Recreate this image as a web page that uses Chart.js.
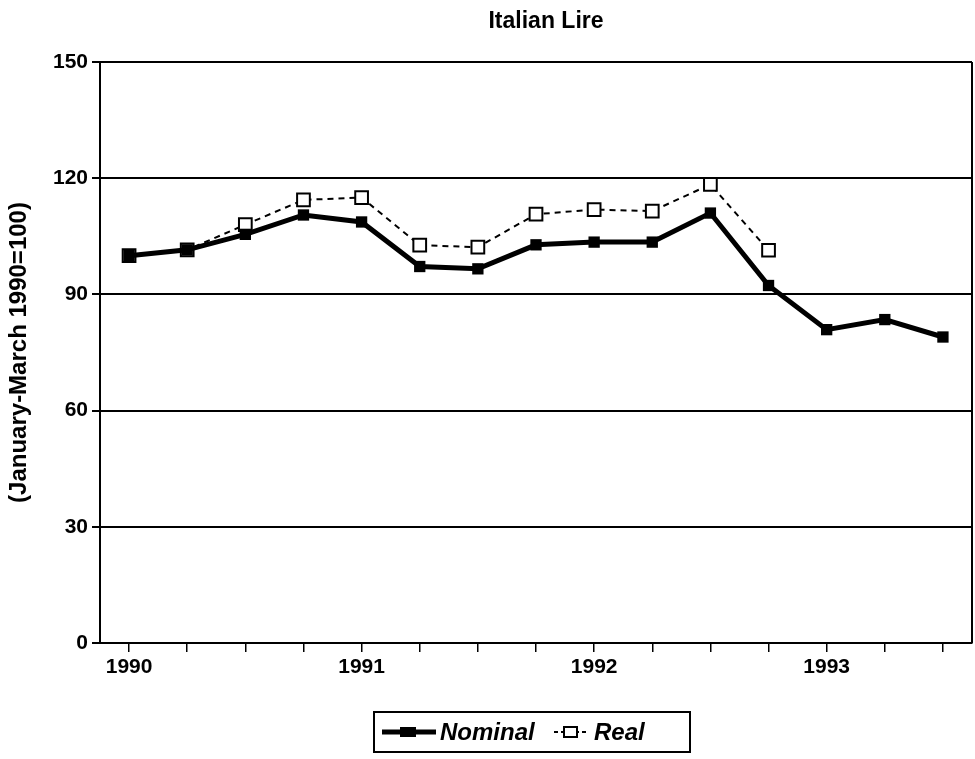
<!DOCTYPE html>
<html>
<head>
<title>Italian Lire</title>
<script src="https://cdn.jsdelivr.net/npm/chart.js@4.4.1/dist/chart.umd.min.js"></script>
<style>
  html, body { margin: 0; padding: 0; background: #fff; overflow: hidden; }
</style>
</head>
<body>
<canvas id="lire" width="983" height="759"></canvas>
<script>
// quarterly index, January-March 1990 = 100
var quarters = ['1990 Q1','1990 Q2','1990 Q3','1990 Q4',
                '1991 Q1','1991 Q2','1991 Q3','1991 Q4',
                '1992 Q1','1992 Q2','1992 Q3','1992 Q4',
                '1993 Q1','1993 Q2','1993 Q3'];
var nominal = [100, 101.5, 105.5, 110.5, 108.7, 97.2, 96.6, 102.8, 103.5, 103.5, 111, 92.3, 80.9, 83.5, 79];
var real    = [100, 101.5, 108, 114.4, 115, 102.7, 102.2, 110.7, 111.9, 111.5, 118.4, 101.4, null, null, null];
var yTicks  = [0, 30, 60, 90, 120, 150];

var FONT = '"Liberation Sans", Arial, sans-serif';

// title, right border and the boxed legend
var extras = {
    id: 'extras',
    afterDraw: function(chart) {
        var ctx = chart.ctx, a = chart.chartArea;
        ctx.save();
        // right frame line
        ctx.strokeStyle = '#000';
        ctx.lineWidth = 2;
        ctx.beginPath();
        ctx.moveTo(a.right, a.top);
        ctx.lineTo(a.right, a.bottom);
        ctx.stroke();

        // title
        ctx.fillStyle = '#000';
        ctx.font = 'bold 23px ' + FONT;
        ctx.textAlign = 'center';
        ctx.textBaseline = 'middle';
        ctx.fillText('Italian Lire', 546, 22);

        // legend box
        var lx = 374, ly = 712, lw = 316, lh = 40, cy = ly + lh / 2;
        ctx.lineWidth = 2;
        ctx.strokeRect(lx, ly, lw, lh);

        // Nominal sample
        ctx.lineWidth = 5;
        ctx.beginPath();
        ctx.moveTo(lx + 8, cy);
        ctx.lineTo(lx + 62, cy);
        ctx.stroke();
        ctx.fillRect(lx + 26, cy - 5, 16, 10);
        ctx.font = 'italic bold 24px ' + FONT;
        ctx.textAlign = 'left';
        ctx.fillText('Nominal', lx + 66, cy + 1);

        // Real sample
        var rx = lx + 180;
        ctx.lineWidth = 2;
        ctx.setLineDash([4, 3]);
        ctx.beginPath();
        ctx.moveTo(rx, cy);
        ctx.lineTo(rx + 34, cy);
        ctx.stroke();
        ctx.setLineDash([]);
        ctx.fillStyle = '#fff';
        ctx.fillRect(rx + 10, cy - 5, 13, 10);
        ctx.strokeRect(rx + 10, cy - 5, 13, 10);
        ctx.fillStyle = '#000';
        ctx.fillText('Real', rx + 40, cy + 1);
        ctx.restore();
    }
};

var ctx1 = document.getElementById('lire').getContext('2d');
var chartLire = new Chart(ctx1, {
    type: 'line',
    data: {
        labels: quarters,
        datasets: [
            {
                label: 'Nominal', data: nominal,
                borderColor: '#000', backgroundColor: '#000',
                borderWidth: 5, pointStyle: 'rect', pointRadius: 8,
                pointBorderWidth: 0, pointBackgroundColor: '#000',
                tension: 0, fill: false, order: 0
            },
            {
                label: 'Real', data: real,
                borderColor: '#000', backgroundColor: '#fff',
                borderWidth: 2, borderDash: [6, 5], pointStyle: 'rect', pointRadius: 9,
                pointBorderWidth: 2, pointBorderColor: '#000', pointBackgroundColor: '#fff',
                tension: 0, fill: false, spanGaps: false, order: 1
            }
        ]
    },
    options: {
        responsive: false,
        animation: false,
        layout: { padding: { left: 0, right: 0, top: 62, bottom: 0 } },
        plugins: { legend: { display: false }, title: { display: false }, tooltip: { enabled: false } },
        scales: {
            x: {
                offset: true,
                afterFit: function(s) { s.height = 116; },
                grid: { offset: false, drawOnChartArea: false, drawTicks: true, tickLength: 9, color: '#000', lineWidth: 1.5 },
                border: { display: true, color: '#000', width: 2 },
                ticks: {
                    autoSkip: false, maxRotation: 0, padding: 3, color: '#000',
                    font: { family: FONT, size: 21, weight: 'bold' },
                    callback: function(v, i) {
                        var q = quarters[i];
                        return q.slice(5) === 'Q1' ? q.slice(0, 4) : '';
                    }
                }
            },
            y: {
                min: 0, max: 150,
                afterFit: function(s) { s.width = 100; },
                afterBuildTicks: function(s) { s.ticks = yTicks.map(function(v) { return { value: v }; }); },
                grid: { color: '#000', lineWidth: 2, tickLength: 8 },
                border: { display: true, color: '#000', width: 2 },
                ticks: {
                    padding: 4, color: '#000',
                    font: { family: FONT, size: 21, weight: 'bold' }
                },
                title: {
                    display: true, text: '(January-March 1990=100)', color: '#000',
                    padding: { top: 5, bottom: 0 },
                    font: { family: FONT, size: 24, weight: 'bold' }
                }
            }
        }
    },
    plugins: [extras]
});
</script>
</body>
</html>
